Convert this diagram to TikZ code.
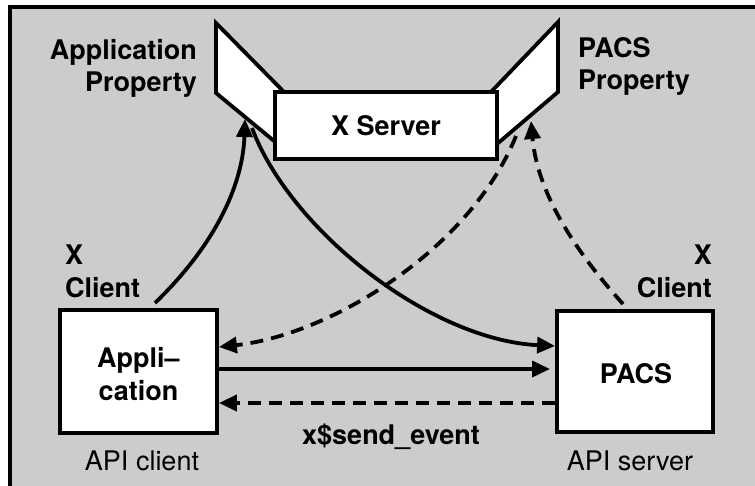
\documentclass[tikz,border=0pt]{standalone}
\usepackage{fontspec}
\setmainfont{TeX Gyre Heros}
\usetikzlibrary{arrows.meta}
\begin{document}
\begin{tikzpicture}[x=1pt,y=-1pt,
  frameline/.style={line width=3.5pt},
  box/.style={draw, line width=3.8pt, fill=white, inner sep=0pt},
  prop/.style={draw, line width=3.8pt, fill=white, line join=miter},
  lbl/.style={font=\fontsize{27}{30}\selectfont\bfseries, inner sep=0pt},
  sublbl/.style={font=\fontsize{27}{30}\selectfont, inner sep=0pt},
  link/.style={line width=3.8pt, -{Triangle[length=18pt,width=16pt]}},
  dlink/.style={link, dash pattern=on 13pt off 8pt},
]
\useasboundingbox (0,0) rectangle (755,486);
\fill[black!20] (10,7) rectangle (755,486);
\draw[frameline] (10,486) -- (10,7) -- (755,7);

% property panels
\draw[prop] (216,23) -- (285,93) -- (285,150) -- (216,93) -- cycle;
\draw[prop] (558,22) -- (490,93) -- (490,150) -- (558,92) -- cycle;

% boxes
\node[box, minimum width=222pt, minimum height=67pt] (xs) at (386,125.5) {};
\node[lbl] (xst) at (386,126) {X Server};
\node[box, minimum width=157pt, minimum height=123pt] (app) at (138.5,371.5) {};
\node[box, minimum width=156pt, minimum height=121pt] (pacs) at (635,371.5) {};
\node[lbl, anchor=base] (appt1) at (138.5,367) {Appli--};
\node[lbl, anchor=base] (appt2) at (138.5,400) {cation};
\node[lbl, anchor=base] (pacst) at (636,383) {PACS};

% labels
\node[lbl, anchor=base east] (ap1) at (197,60) {Application};
\node[lbl, anchor=base east] (ap2) at (197,92) {Property};
\node[lbl, anchor=base west] (pp1) at (578,58) {PACS};
\node[lbl, anchor=base west] (pp2) at (578,90) {Property};
\node[lbl, anchor=base west] (xc1) at (65,265) {X};
\node[lbl, anchor=base west] (xc2) at (65,298) {Client};
\node[lbl, anchor=base east] (xc3) at (712,265) {X};
\node[lbl, anchor=base east] (xc4) at (712,298) {Client};
\node[sublbl, anchor=base] (apic) at (142,470) {API client};
\node[sublbl, anchor=base] (apis) at (630,470) {API server};
\node[lbl, anchor=base west] (se) at (302,444) {x\$send\_event};

% anchor points
\coordinate (lpin) at (245,119);
\coordinate (lpout) at (252,128);
\coordinate (rpin) at (531,121);
\coordinate (rpout) at (516,136);
\coordinate (appup) at (155,303);
\coordinate (pacsup) at (623,304);

% connectors
\draw[link] (appup) .. controls (220,240) and (243,180) .. (lpin);
\draw[link] (lpout) .. controls (290,230) and (430,340) .. (pacs.west |- 0,346);
\draw[dlink] (rpout) .. controls (470,250) and (330,335) .. (app.east |- 0,347);
\draw[dlink] (pacsup) .. controls (585,262) and (538,200) .. (rpin);
\draw[link] (app.east |- 0,369) -- (550,369);
\draw[dlink] (pacs.west |- 0,403) -- (app.east |- 0,403);
\end{tikzpicture}
\end{document}
